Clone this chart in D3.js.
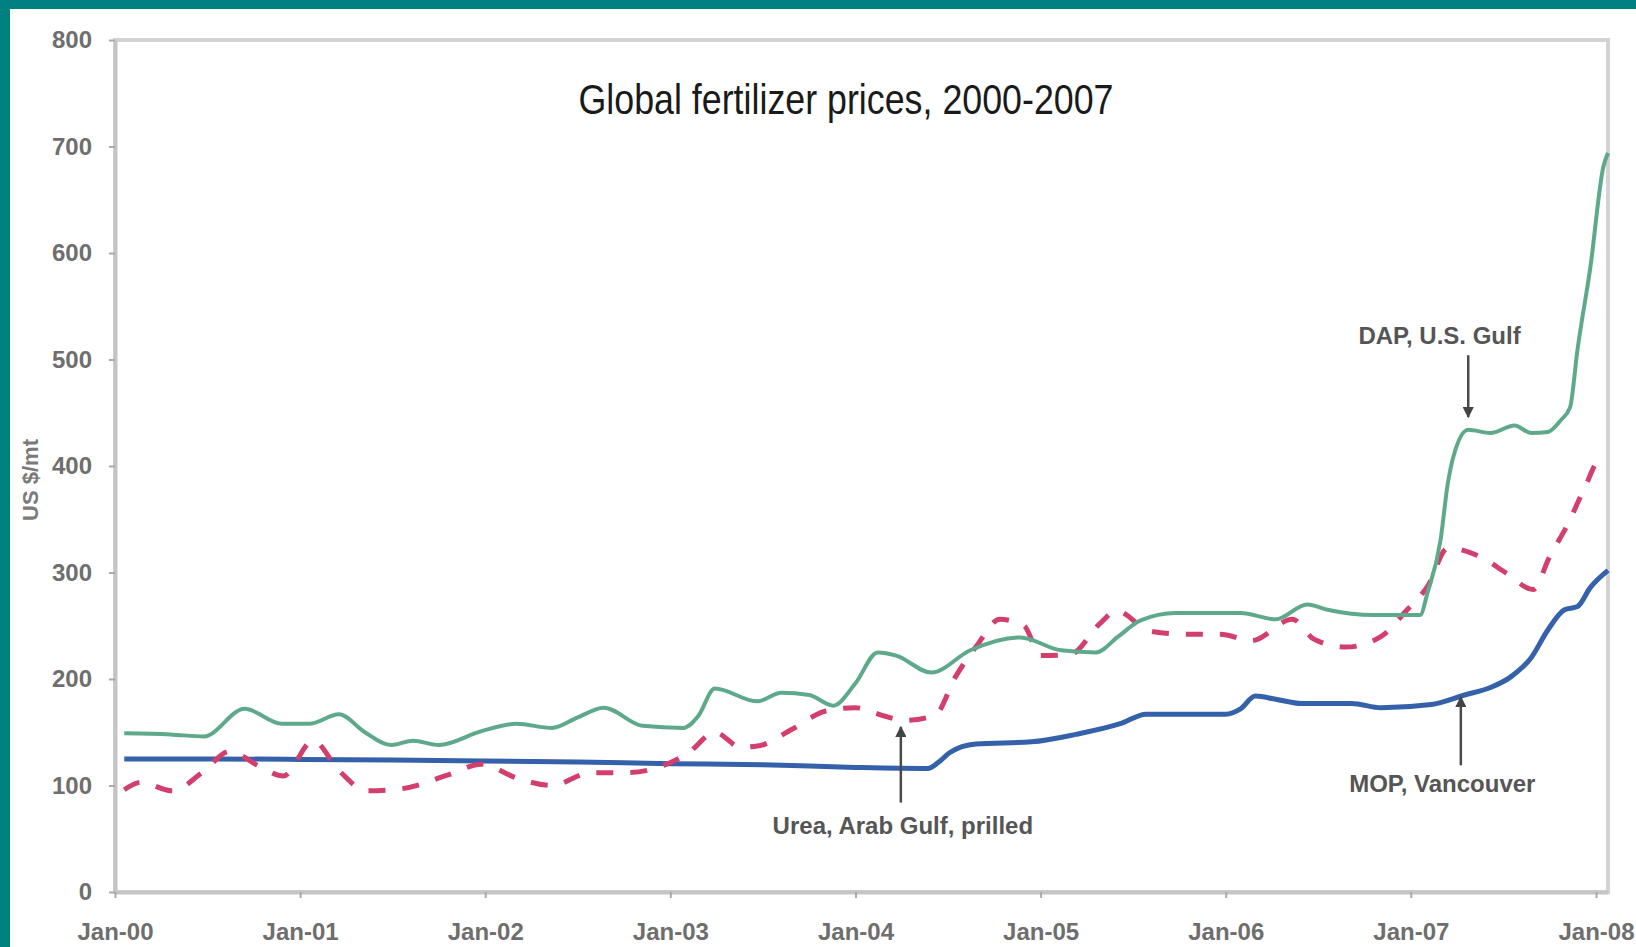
<!DOCTYPE html>
<html>
<head>
<meta charset="utf-8">
<script src="https://cdn.jsdelivr.net/npm/d3@7"></script>
<style>
  body { margin: 0; overflow: hidden; background: #fff; }
  text { font-family: "Liberation Sans", Arial, sans-serif; }
</style>
</head>
<body>
<div class="canva"></div>
<script>
// Data (decimal years, US $/mt)
const dapYears = [2000.05, 2000.30, 2000.48, 2000.70, 2000.90, 2001.05, 2001.21, 2001.35, 2001.49, 2001.61, 2001.75, 2001.98,
  2002.17, 2002.36, 2002.50, 2002.64, 2002.85, 2003.07, 2003.15, 2003.24, 2003.47, 2003.60, 2003.75, 2003.88,
  2004.00, 2004.12, 2004.22, 2004.41, 2004.62, 2004.89, 2005.11, 2005.30, 2005.42, 2005.54, 2005.73,
  2006.08, 2006.27, 2006.44, 2006.55, 2006.80, 2007.05, 2007.09, 2007.16, 2007.20, 2007.23, 2007.31, 2007.43,
  2007.56, 2007.65, 2007.74, 2007.81, 2007.86, 2007.90, 2007.97, 2008.04, 2008.065];
const dapValues = [149, 148, 146, 172, 158, 158, 167, 150, 138, 142, 138, 151,
  158, 154, 164, 173, 156, 154, 165, 191, 179, 187, 185, 175,
  196, 225, 222, 206, 227, 239, 227, 225, 240, 255, 262,
  262, 256, 270, 265, 260, 260, 281, 330, 384, 409, 434, 431,
  438, 431, 432, 443, 455, 509, 587, 681, 694];

const ureaYears = [2000.05, 2000.14, 2000.31, 2000.47, 2000.62, 2000.78, 2000.91, 2001.07, 2001.21, 2001.36, 2001.55, 2001.80, 2001.98,
  2002.17, 2002.36, 2002.57, 2002.76, 2002.98, 2003.10, 2003.24, 2003.38, 2003.47, 2003.66, 2003.84,
  2004.00, 2004.16, 2004.26, 2004.43, 2004.54, 2004.65, 2004.78, 2004.91, 2005.00, 2005.16, 2005.32, 2005.41,
  2005.59, 2005.78, 2005.97, 2006.14, 2006.36, 2006.48, 2006.65, 2006.84, 2006.98, 2007.09, 2007.20, 2007.36,
  2007.52, 2007.66, 2007.75, 2007.85, 2007.94, 2008.02, 2008.065];
const ureaValues = [96, 103, 95, 112, 132, 118, 109, 142, 114, 95, 97, 110, 120,
  107, 100, 112, 112, 120, 131, 150, 136, 137, 153, 170,
  173, 165, 161, 166, 202, 230, 256, 250, 222, 223, 252, 264,
  245, 242, 242, 236, 256, 237, 230, 240, 265, 287, 323, 316,
  299, 284, 315, 346, 380, 405, 404];

const mopYears = [2000.05, 2000.50, 2001.00, 2001.50, 2002.00, 2002.50, 2003.00, 2003.50, 2004.00, 2004.39, 2004.45, 2004.51,
  2004.65, 2004.95, 2005.19, 2005.43, 2005.57, 2006.00, 2006.08, 2006.16, 2006.27, 2006.41, 2006.68, 2006.84,
  2007.11, 2007.29, 2007.43, 2007.54, 2007.65, 2007.74, 2007.83, 2007.90, 2007.97, 2008.065];
const mopValues = [125, 125, 124.5, 124, 123, 122, 120.5, 119.5, 117, 116, 122, 131,
  139, 141, 148, 158, 167, 167, 172, 184, 181, 177, 177, 173,
  176, 185, 192, 202, 220, 246, 265, 268, 286, 302];

// Axis ticks
const yearTicks = [2000, 2001, 2002, 2003, 2004, 2005, 2006, 2007, 2008];
const xTickLabels = ['Jan-00', 'Jan-01', 'Jan-02', 'Jan-03', 'Jan-04', 'Jan-05', 'Jan-06', 'Jan-07', 'Jan-08'];
const yTicks = [0, 100, 200, 300, 400, 500, 600, 700, 800];

// Arrow annotations, anchored in data space
const notes = [
  { label: 'DAP, U.S. Gulf', textYear: 2007.155, textValue: 515, arrowYear: 2007.31, tail: 504, tip: 446 },
  { label: 'Urea, Arab Gulf, prilled', textYear: 2004.256, textValue: 54, arrowYear: 2004.245, tail: 84, tip: 155 },
  { label: 'MOP, Vancouver', textYear: 2007.17, textValue: 94, arrowYear: 2007.27, tail: 119, tip: 183 }
];

const width = 1636;
const height = 947;
const plot = { left: 115, right: 1608, top: 40, bottom: 892 };

const svg = d3.select('.canva').append('svg')
  .attr('width', width)
  .attr('height', height);

svg.append('rect')
  .attr('width', width)
  .attr('height', height)
  .attr('fill', '#fff');

// teal border strips (top and left)
svg.append('rect').attr('x', 0).attr('y', 0).attr('width', width).attr('height', 9).attr('fill', '#008080');
svg.append('rect').attr('x', 0).attr('y', 0).attr('width', 10).attr('height', height).attr('fill', '#008080');

const x = d3.scaleLinear()
  .domain([2000, 2008.065])
  .range([plot.left, plot.right]);

const y = d3.scaleLinear()
  .domain([0, 800])
  .range([plot.bottom, plot.top]);

// plot frame
svg.append('rect')
  .attr('x', plot.left)
  .attr('y', plot.top)
  .attr('width', plot.right - plot.left)
  .attr('height', plot.bottom - plot.top)
  .attr('fill', 'none')
  .attr('stroke', '#d3d3d3')
  .attr('stroke-width', 4);

const yAxis = svg.append('g')
  .attr('transform', `translate(${plot.left},0)`)
  .call(d3.axisLeft(y).tickValues(yTicks).tickSize(6).tickSizeOuter(0).tickPadding(17));

const xAxis = svg.append('g')
  .attr('transform', `translate(0,${plot.bottom})`)
  .call(d3.axisBottom(x).tickValues(yearTicks).tickFormat((d, i) => xTickLabels[i])
    .tickSize(6).tickSizeOuter(0).tickPadding(25));

[yAxis, xAxis].forEach(g => {
  g.select('.domain').attr('stroke', '#c4c4c4').attr('stroke-width', 4);
  g.selectAll('.tick line').attr('stroke', '#aaa').attr('stroke-width', 2);
  g.selectAll('.tick text')
    .attr('fill', '#6e6e6e')
    .attr('font-size', 24)
    .attr('font-weight', 'bold')
    .style('font-family', '"Liberation Sans", Arial, sans-serif');
});

// series
const line = d3.line()
  .x(d => x(d[0]))
  .y(d => y(d[1]))
  .curve(d3.curveMonotoneX);

const series = [
  { years: mopYears, values: mopValues, color: '#3461a9', width: 5, dash: null },
  { years: ureaYears, values: ureaValues, color: '#d23f6c', width: 5, dash: '17,17' },
  { years: dapYears, values: dapValues, color: '#5fa98b', width: 4, dash: null }
];

svg.selectAll('path.series')
  .data(series)
  .enter()
  .append('path')
  .attr('class', 'series')
  .attr('d', s => line(d3.zip(s.years, s.values)))
  .attr('fill', 'none')
  .attr('stroke', s => s.color)
  .attr('stroke-width', s => s.width)
  .attr('stroke-dasharray', s => s.dash)
  .attr('stroke-linejoin', 'round');

// title (narrow face, squeezed to the measured width)
svg.append('text')
  .attr('x', 846)
  .attr('y', 114)
  .attr('text-anchor', 'middle')
  .attr('font-size', 42)
  .attr('fill', '#1a1a1a')
  .attr('textLength', 535)
  .attr('lengthAdjust', 'spacingAndGlyphs')
  .style('font-family', '"Liberation Sans Narrow", "Arial Narrow", "Liberation Sans", sans-serif')
  .text('Global fertilizer prices, 2000-2007');

// y axis title
svg.append('text')
  .attr('transform', 'translate(38,480) rotate(-90)')
  .attr('text-anchor', 'middle')
  .attr('font-size', 22)
  .attr('font-weight', 'bold')
  .attr('fill', '#7a7a7a')
  .text('US $/mt');

// arrow annotations
svg.append('defs').append('marker')
  .attr('id', 'head')
  .attr('viewBox', '0 0 10 10')
  .attr('refX', 9)
  .attr('refY', 5)
  .attr('markerWidth', 4.5)
  .attr('markerHeight', 4.5)
  .attr('orient', 'auto')
  .append('path')
  .attr('d', 'M0,0L10,5L0,10z')
  .attr('fill', '#444');

const note = svg.selectAll('g.note')
  .data(notes)
  .enter()
  .append('g')
  .attr('class', 'note');

note.append('line')
  .attr('x1', d => x(d.arrowYear))
  .attr('x2', d => x(d.arrowYear))
  .attr('y1', d => y(d.tail))
  .attr('y2', d => y(d.tip))
  .attr('stroke', '#4a4a4a')
  .attr('stroke-width', 2.5)
  .attr('marker-end', 'url(#head)');

note.append('text')
  .attr('x', d => x(d.textYear))
  .attr('y', d => y(d.textValue))
  .attr('text-anchor', 'middle')
  .attr('font-size', 24)
  .attr('font-weight', 'bold')
  .attr('fill', '#555')
  .text(d => d.label);
</script>
</body>
</html>
